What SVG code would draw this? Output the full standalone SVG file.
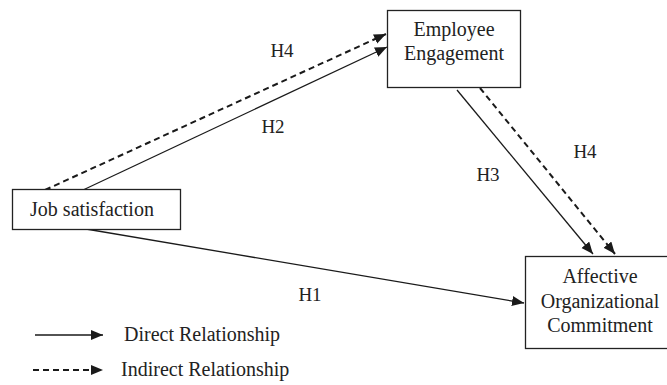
<svg xmlns="http://www.w3.org/2000/svg" width="667" height="385" viewBox="0 0 667 385">
  <defs>
    <marker id="ah" markerUnits="userSpaceOnUse" markerWidth="13" markerHeight="11" refX="12" refY="5" orient="auto">
      <path d="M0,0 L12,5 L0,10 z" fill="#1a1a1a"/>
    </marker>
    <style>
      .box { fill: #ffffff; stroke: #222222; stroke-width: 1.3; }
      .t { font-family: "Liberation Serif", "Times New Roman", serif; font-size: 20px; fill: #222222; text-anchor: middle; }
      .lbl { font-family: "Liberation Serif", "Times New Roman", serif; font-size: 19px; fill: #222222; text-anchor: middle; }
      .leg { font-family: "Liberation Serif", "Times New Roman", serif; font-size: 20px; fill: #222222; }
      .solid { fill: none; stroke: #1a1a1a; stroke-width: 1.3; marker-end: url(#ah); }
      .dash { fill: none; stroke: #1a1a1a; stroke-width: 2; stroke-dasharray: 6 4; marker-end: url(#ah); }
    </style>
  </defs>

  <g id="connectors">
    <line class="dash" x1="45" y1="190" x2="386" y2="34"/>
    <line class="solid" x1="83" y1="190" x2="387" y2="47"/>
    <line class="solid" x1="457" y1="90" x2="593" y2="254"/>
    <line class="dash" x1="480" y1="88" x2="615" y2="254"/>
    <line class="solid" x1="86" y1="229" x2="524" y2="303"/>
    <text class="lbl" x="282" y="57">H4</text>
    <text class="lbl" x="273" y="133">H2</text>
    <text class="lbl" x="488" y="181">H3</text>
    <text class="lbl" x="585" y="158">H4</text>
    <text class="lbl" x="310" y="301">H1</text>
  </g>

  <g id="job-satisfaction">
    <rect class="box" x="12.5" y="189.5" width="168" height="40"/>
    <text class="t" x="92" y="216">Job satisfaction</text>
  </g>

  <g id="employee-engagement">
    <rect class="box" x="387.5" y="10.5" width="133" height="77"/>
    <text class="t" x="454" y="36">Employee</text>
    <text class="t" x="454" y="60">Engagement</text>
  </g>

  <g id="affective-commitment">
    <rect class="box" x="525.5" y="256.5" width="150" height="92"/>
    <text class="t" x="600" y="283">Affective</text>
    <text class="t" x="600" y="307.5">Organizational</text>
    <text class="t" x="600" y="331.5">Commitment</text>
  </g>

  <g id="legend">
    <line class="solid" x1="35" y1="335" x2="103" y2="335"/>
    <text class="leg" x="124" y="341">Direct Relationship</text>
    <line class="dash" x1="33" y1="370" x2="103" y2="370"/>
    <text class="leg" x="121" y="376">Indirect Relationship</text>
  </g>
</svg>
